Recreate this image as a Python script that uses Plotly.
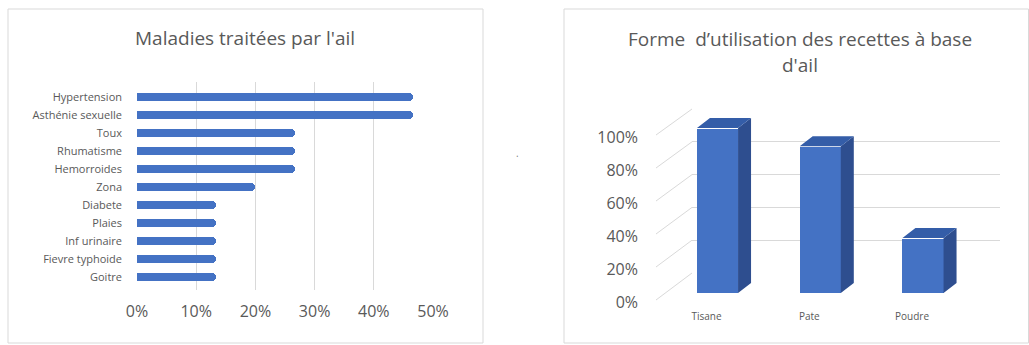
import plotly.graph_objects as go

# ---- data -------------------------------------------------------------
maladies = ["Hypertension", "Asthénie sexuelle", "Toux", "Rhumatisme",
            "Hemorroides", "Zona", "Diabete", "Plaies", "Inf urinaire",
            "Fievre typhoide", "Goitre"]
maladies_pct = [0.467, 0.467, 0.267, 0.267, 0.267, 0.20,
                0.133, 0.133, 0.133, 0.133, 0.133]

formes = ["Tisane", "Pate", "Poudre"]
formes_pct = [1.00, 0.889, 0.333]

pct_ticks = [0, 0.2, 0.4, 0.6, 0.8, 1.0]

# ---- canvas helpers ---------------------------------------------------
W, H = 1029, 345
FONT = "Open Sans"
GREY_TXT = "#595959"
GRID = "#d9d9d9"
BLUE = "#4472C4"
BLUE_SIDE = "#2E4E8F"
BLUE_TOP = "#345DA8"


def fx(p):
    return p / W


def fy(p):
    return 1 - p / H


fig = go.Figure()

# ---- left panel: horizontal bars -------------------------------------
fig.add_trace(go.Bar(
    x=maladies_pct, y=maladies, orientation="h",
    marker=dict(color=BLUE, cornerradius=4, line=dict(width=0)),
    width=0.44, xaxis="x", yaxis="y", showlegend=False,
    hoverinfo="skip",
))

row_px = 18.0
top_pad = 15 / row_px
rows_visible = 208 / row_px
fig.update_layout(
    xaxis=dict(domain=[fx(137), fx(433)], range=[0, 0.5], dtick=0.1,
               tickformat=".0%", showgrid=True, gridcolor=GRID, gridwidth=1,
               zeroline=False, showline=False, ticks="", automargin=False,
               tickfont=dict(size=16, color=GREY_TXT, family=FONT),
               ticklabelstandoff=10, anchor="y", fixedrange=True),
    yaxis=dict(domain=[fy(290), fy(82)], type="category",
               categoryorder="array", categoryarray=maladies,
               range=[rows_visible - top_pad, -top_pad],
               showgrid=False, zeroline=False, showline=False, ticks="",
               automargin=False,
               tickfont=dict(size=11, color=GREY_TXT, family=FONT),
               ticklabelstandoff=14, anchor="x", fixedrange=True),
)

# ---- right panel: back wall gridlines --------------------------------
fig.add_trace(go.Scatter(x=[0], y=[None], xaxis="x2", yaxis="y2",
                         showlegend=False, hoverinfo="skip"))
fig.update_layout(
    xaxis2=dict(domain=[fx(692), fx(1000)], range=[0, 1], visible=False,
                anchor="y2", fixedrange=True, automargin=False),
    yaxis2=dict(domain=[fy(273), fy(109)], range=[0, 1], tickvals=pct_ticks,
                showgrid=True, gridcolor=GRID, gridwidth=1, zeroline=False,
                showticklabels=False, ticks="", showline=False,
                automargin=False, anchor="x2", fixedrange=True),
)

# ---- right panel: 3D-look columns -------------------------------------
xpos = list(range(len(formes)))
bw = 0.40
dx = 13 / 102.75
dy = 10 / 165

fig.add_trace(go.Bar(
    x=xpos, y=formes_pct, width=bw, marker=dict(color=BLUE, line=dict(width=0)),
    xaxis="x3", yaxis="y3", showlegend=False, hoverinfo="skip",
))

side_x, side_y, top_x, top_y = [], [], [], []
for c, v in zip(xpos, formes_pct):
    r = c + bw / 2
    l = c - bw / 2
    side_x += [r, r + dx, r + dx, r, r, None]
    side_y += [0, dy, v + dy, v, 0, None]
    top_x += [l, l + dx, r + dx, r, l, None]
    top_y += [v, v + dy, v + dy, v, v, None]

fig.add_trace(go.Scatter(x=side_x, y=side_y, fill="toself", mode="lines",
                         line=dict(width=0, color=BLUE_SIDE),
                         fillcolor=BLUE_SIDE, xaxis="x3", yaxis="y3",
                         showlegend=False, hoverinfo="skip"))
fig.add_trace(go.Scatter(x=top_x, y=top_y, fill="toself", mode="lines",
                         line=dict(width=0, color=BLUE_TOP),
                         fillcolor=BLUE_TOP, xaxis="x3", yaxis="y3",
                         showlegend=False, hoverinfo="skip"))

fig.update_layout(
    xaxis3=dict(domain=[fx(657), fx(1000)], range=[-60.5 / 102.75, 282.5 / 102.75],
                tickvals=xpos, ticktext=formes, showgrid=False, zeroline=False,
                showline=False, ticks="", automargin=False,
                tickfont=dict(size=10, color=GREY_TXT, family=FONT),
                ticklabelstandoff=16, ticklabelshift=-11,
                anchor="y3", fixedrange=True),
    yaxis3=dict(domain=[fy(293), fy(293 - 165 * 1.1)], range=[0, 1.1],
                tickvals=pct_ticks, tickformat=".0%", showgrid=False,
                zeroline=False, showline=False, ticks="", automargin=False,
                tickfont=dict(size=16, color=GREY_TXT, family=FONT),
                ticklabelstandoff=18, ticklabelshift=9,
                anchor="x3", fixedrange=True),
)

# ---- shapes: panel frames and left-wall diagonals ---------------------
shapes = [
    dict(type="rect", xref="paper", yref="paper", x0=fx(8), x1=fx(483),
         y0=fy(343), y1=fy(9), line=dict(color=GRID, width=1), layer="below"),
    dict(type="rect", xref="paper", yref="paper", x0=fx(564), x1=fx(1028.5),
         y0=fy(343), y1=fy(9), line=dict(color=GRID, width=1), layer="below"),
]
for v in pct_ticks:
    shapes.append(dict(type="line", xref="paper", yref="paper",
                       x0=fx(656), y0=fy(300 - 165 * v),
                       x1=fx(692), y1=fy(273 - 164 * v),
                       line=dict(color=GRID, width=1), layer="below"))

# ---- titles -----------------------------------------------------------
title_font = dict(size=19, color=GREY_TXT, family=FONT)
annotations = [
    dict(text="Maladies traitées par l'ail", xref="paper", yref="paper",
         x=fx(245), y=fy(38), xanchor="center", yanchor="middle",
         showarrow=False, font=title_font),
    dict(text="Forme\u00a0 d’utilisation des recettes à base", xref="paper",
         yref="paper", x=fx(800), y=fy(39), xanchor="center", yanchor="middle",
         showarrow=False, font=title_font),
    dict(text="d'ail", xref="paper", yref="paper", x=fx(800), y=fy(65),
         xanchor="center", yanchor="middle", showarrow=False, font=title_font),
    dict(text=".", xref="paper", yref="paper", x=fx(517), y=fy(153),
         xanchor="center", yanchor="middle", showarrow=False,
         font=dict(size=10, color="#7f7f7f", family=FONT)),
]

fig.update_layout(
    width=W, height=H, margin=dict(l=0, r=0, t=0, b=0, pad=0),
    autosize=False,
    paper_bgcolor="white", plot_bgcolor="rgba(0,0,0,0)",
    shapes=shapes, annotations=annotations, bargap=0,
    font=dict(family=FONT, color=GREY_TXT),
)

fig.write_html("out.html", config={"displayModeBar": False})
